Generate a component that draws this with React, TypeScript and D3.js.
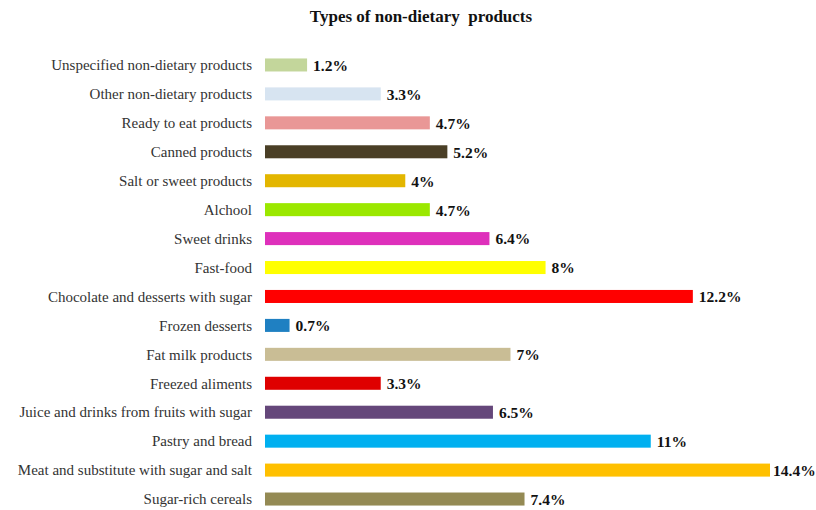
import React from "react";
import * as d3 from "d3";

const categories = [
  "Unspecified non-dietary products",
  "Other non-dietary products",
  "Ready to eat products",
  "Canned products",
  "Salt or sweet products",
  "Alchool",
  "Sweet drinks",
  "Fast-food",
  "Chocolate and desserts with sugar",
  "Frozen desserts",
  "Fat milk products",
  "Freezed aliments",
  "Juice and drinks from fruits with sugar",
  "Pastry and bread",
  "Meat and substitute with sugar and salt",
  "Sugar-rich cereals",
];

const values = [1.2, 3.3, 4.7, 5.2, 4, 4.7, 6.4, 8, 12.2, 0.7, 7, 3.3, 6.5, 11, 14.4, 7.4];

const valueLabels = ["1.2%", "3.3%", "4.7%", "5.2%", "4%", "4.7%", "6.4%", "8%", "12.2%", "0.7%", "7%", "3.3%", "6.5%", "11%", "14.4%", "7.4%"];

const colors = [
  "#c3d69b", "#d7e4f1", "#e99796", "#4a3f26", "#e3b600", "#9be800", "#de30bb", "#ffff00",
  "#ff0000", "#1f80c2", "#c9bd95", "#df0000", "#65477a", "#00b0f0", "#ffc000", "#948a54",
];

const title = "Types of non-dietary  products";

export default function App() {
  const W = 816, H = 510;
  const x = d3.scaleLinear().domain([0, 14.4]).range([265, 770]);
  const y = d3.scaleBand().domain(categories).range([50.5, 513.5]).paddingInner(0.55).paddingOuter(0.275);
  return (
    <svg width={W} height={H} style={{ position: "absolute", left: 0, top: 0, background: "#fff" }}>
      <text x={421} y={22} textAnchor="middle" fontFamily="Liberation Serif" fontWeight="bold" fontSize={17} fill="#111" style={{ whiteSpace: "pre" }}>
        {title}
      </text>
      {categories.map((c, i) => {
        const yy = y(c)!;
        const bw = y.bandwidth();
        const cy = yy + bw / 2;
        return (
          <g key={c}>
            <text x={252} y={cy} dy="0.35em" textAnchor="end" fontFamily="Liberation Serif" fontSize={15} fill="#333">
              {c}
            </text>
            <rect x={x(0)} y={yy} width={x(values[i]) - x(0)} height={bw} fill={colors[i]} />
            <text x={Math.min(x(values[i]) + 6, 773)} y={cy} dy="0.38em" fontFamily="Liberation Serif" fontWeight="bold" fontSize={15.5} fill="#111">
              {valueLabels[i]}
            </text>
          </g>
        );
      })}
    </svg>
  );
}
